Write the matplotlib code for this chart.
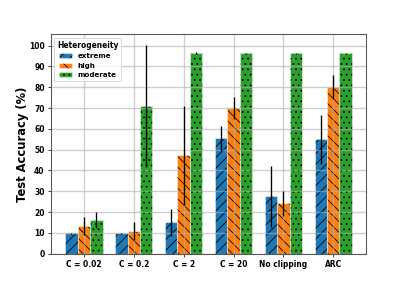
import numpy as np
import matplotlib
matplotlib.use('Agg')
import matplotlib.pyplot as plt

categories = ['C = 0.02', 'C = 0.2', 'C = 2', 'C = 20', 'No clipping', 'ARC']
series = ['extreme', 'high', 'moderate']

extreme = [9.8, 9.8, 15.0, 55.5, 27.5, 55.0]
high = [13.2, 10.8, 47.2, 70.0, 24.3, 80.0]
moderate = [16.2, 71.0, 96.5, 96.3, 96.3, 96.3]

extreme_err = [0.3, 0.3, 6.5, 6.0, 14.6, 11.7]
high_err = [4.4, 4.3, 23.8, 5.4, 6.0, 5.8]
moderate_err = [4.0, 29.5, 0.3, 0.3, 0.3, 0.3]

colors = ['#1f77b4', '#ff7f0e', '#2ca02c']
hatches = ['//', '\\\\', '..']

plt.rcParams['hatch.linewidth'] = 0.9

dpi = 64
fig, ax = plt.subplots(figsize=(407 / dpi, 285 / dpi), dpi=dpi)

x = np.arange(len(categories))
width = 0.25
vals = [extreme, high, moderate]
errs = [extreme_err, high_err, moderate_err]

for i in range(3):
    bars = ax.bar(x + (i - 1) * width, vals[i], width, yerr=errs[i],
                  color=colors[i], edgecolor=(1, 1, 1, 0.45), linewidth=1.2,
                  hatch=hatches[i], label=series[i],
                  error_kw=dict(ecolor='black', elinewidth=1.5, capsize=0))
    for b in bars:
        b._hatch_color = (0, 0, 0, 1)

ax.grid(True, linewidth=1.5, alpha=0.6)
ax.set_yticks(np.arange(0, 101, 10))
ax.set_xticks(x)
ax.set_xticklabels(categories, fontsize=8.5, fontweight='bold')
for lab in ax.get_yticklabels():
    lab.set_fontsize(8.5)
    lab.set_fontweight('bold')
ax.set_ylabel('Test Accuracy (%)', fontsize=13, fontweight='bold', labelpad=0)
for s in ax.spines.values():
    s.set_color('#555555')
    s.set_linewidth(1.2)

leg = ax.legend(title='Heterogeneity', loc='upper left',
                prop={'size': 8, 'weight': 'bold'},
                title_fontproperties={'size': 8.5, 'weight': 'bold'},
                handlelength=1.8)

plt.savefig('out.png', dpi=dpi)
